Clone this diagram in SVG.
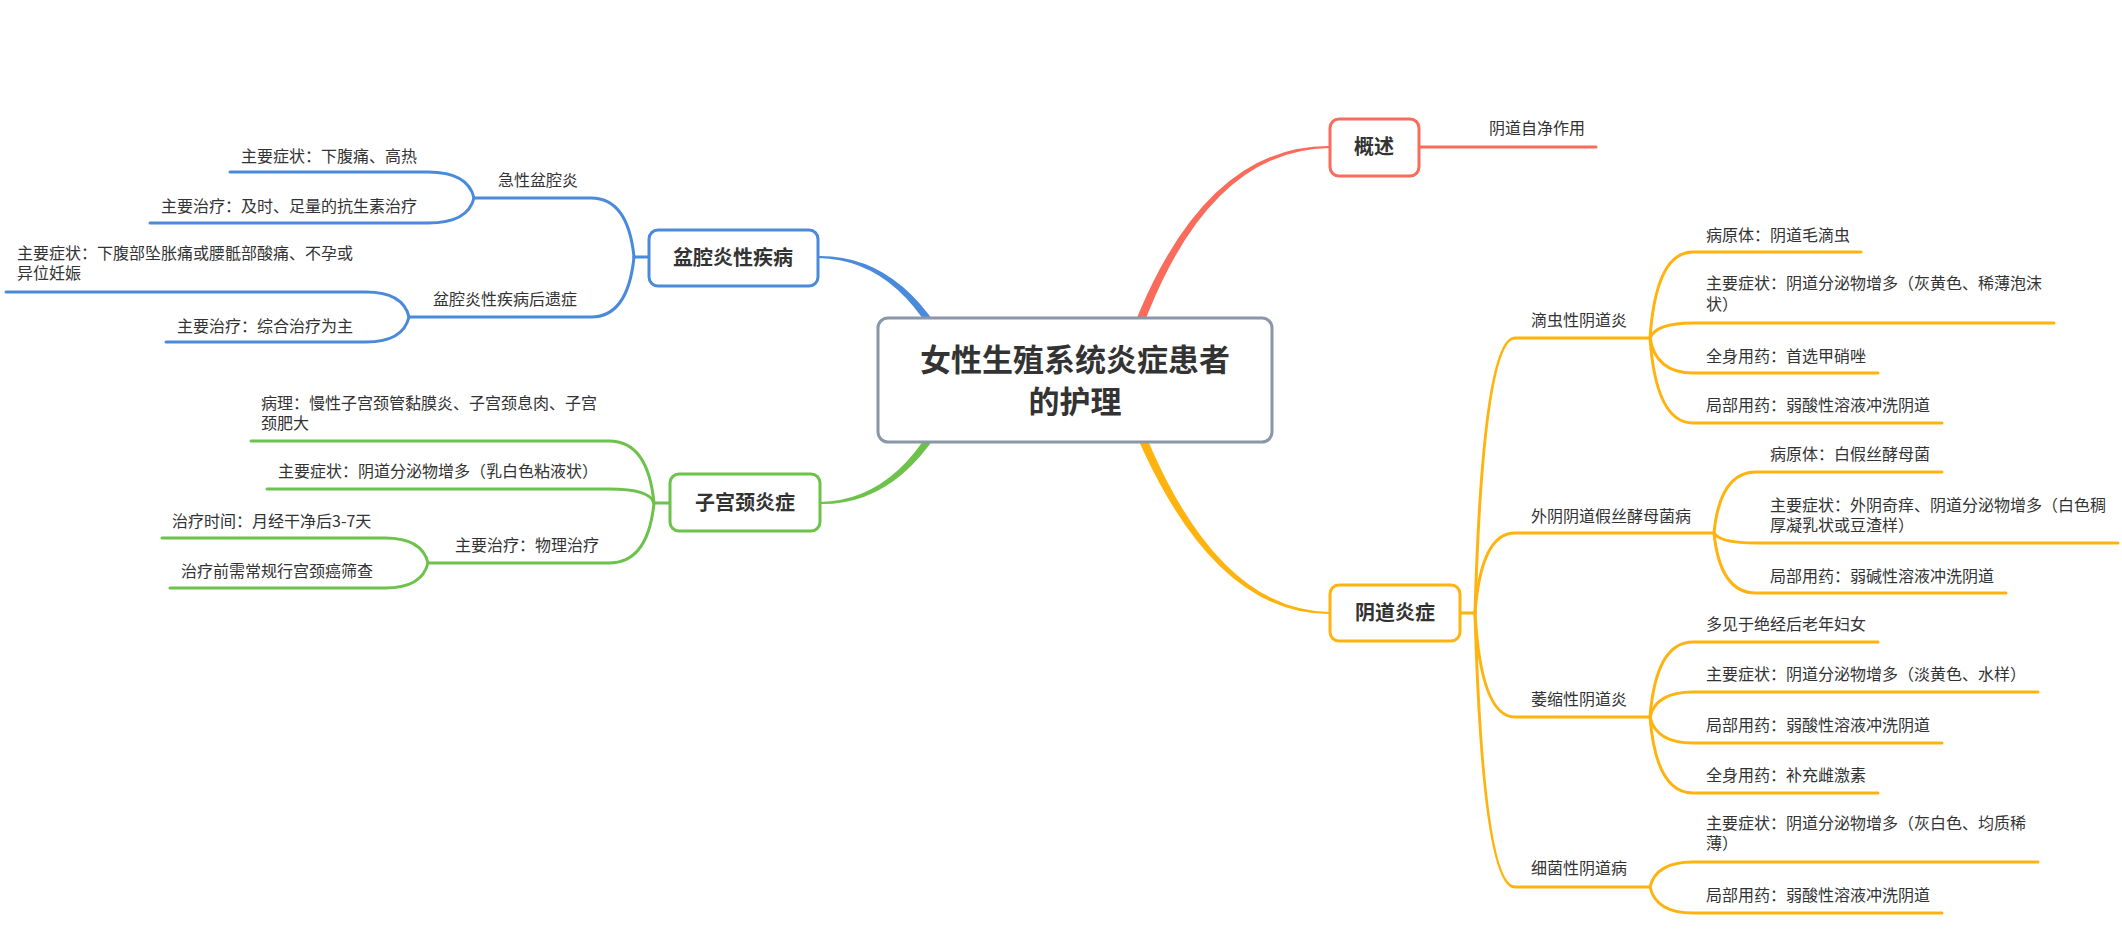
<svg xmlns="http://www.w3.org/2000/svg" width="2122" height="943" viewBox="0 0 2122 943">
<style>
text{font-family:"Noto Sans CJK SC","Noto Sans",sans-serif;fill:#333333}
.leaf{font-size:16px}
.main{font-size:20px;font-weight:bold;text-anchor:middle}
.root{font-size:31px;font-weight:bold;text-anchor:middle}
.ln{fill:none;stroke-width:3;stroke-linecap:round}
.r{stroke:#F96B5A}.b{stroke:#4A8ADB}.g{stroke:#6CC24A}.y{stroke:#FFB30F}
.box{fill:#ffffff;stroke-width:3}
</style>
<rect width="2122" height="943" fill="#ffffff"/>
<g id="connectors">
<path d="M 1124.79,381.44 Q 1191.79,149.41 1330,148 L 1330,146 Q 1188.21,144.59 1115.21,378.56 Z" fill="#F96B5A"/>
<path d="M 1115.27,381.62 Q 1198.26,615.44 1330,614 L 1330,612 Q 1201.74,610.56 1124.73,378.38 Z" fill="#FFB30F"/>
<path d="M 964.63,378.12 Q 911.67,254.51 818,256 L 818,258 Q 908.33,259.49 955.37,381.88 Z" fill="#4A8ADB"/>
<path d="M 955.37,378.12 Q 908.33,500.51 820,502 L 820,504 Q 911.67,505.49 964.63,381.88 Z" fill="#6CC24A"/>
<path class="ln r" d="M 1419 147 L 1596 147"/>
<path class="ln y" d="M 1460 613 L 1475 613"/>
<path class="ln y" d="M 1475 613 Q 1483 338 1515 338 L 1650 338"/>
<path class="ln y" d="M 1475 613 Q 1481 533 1515 533 L 1714 533"/>
<path class="ln y" d="M 1475 613 Q 1481 717 1515 717 L 1650 717"/>
<path class="ln y" d="M 1475 613 Q 1483 887 1515 887 L 1650 887"/>
<path class="ln y" d="M 1650 338 Q 1656 252 1693 252 L 1861 252"/>
<path class="ln y" d="M 1650 338 Q 1656 323 1693 323 L 2054 323"/>
<path class="ln y" d="M 1650 338 Q 1656 373 1693 373 L 1878 373"/>
<path class="ln y" d="M 1650 338 Q 1656 423 1693 423 L 1942 423"/>
<path class="ln y" d="M 1714 533 Q 1720 472 1756 472 L 1942 472"/>
<path class="ln y" d="M 1714 533 Q 1720 543 1756 543 L 2118 543"/>
<path class="ln y" d="M 1714 533 Q 1720 593 1756 593 L 2006 593"/>
<path class="ln y" d="M 1650 717 Q 1656 642 1693 642 L 1878 642"/>
<path class="ln y" d="M 1650 717 Q 1656 692 1693 692 L 2038 692"/>
<path class="ln y" d="M 1650 717 Q 1656 743 1693 743 L 1942 743"/>
<path class="ln y" d="M 1650 717 Q 1656 793 1693 793 L 1878 793"/>
<path class="ln y" d="M 1650 887 Q 1656 862 1693 862 L 2038 862"/>
<path class="ln y" d="M 1650 887 Q 1656 913 1693 913 L 1942 913"/>
<path class="ln b" d="M 649 257 L 634 257"/>
<path class="ln b" d="M 634 257 Q 628 198 591 198 L 474 198"/>
<path class="ln b" d="M 634 257 Q 628 317 591 317 L 409 317"/>
<path class="ln b" d="M 474 198 Q 468 172 428 172 L 230 172"/>
<path class="ln b" d="M 474 198 Q 468 223 428 223 L 150 223"/>
<path class="ln b" d="M 409 317 Q 403 292 366 292 L 6 292"/>
<path class="ln b" d="M 409 317 Q 403 342 366 342 L 166 342"/>
<path class="ln g" d="M 670 503 L 654 503"/>
<path class="ln g" d="M 654 503 Q 648 441 609 441 L 251 441"/>
<path class="ln g" d="M 654 503 Q 650 489 609 489 L 267 489"/>
<path class="ln g" d="M 654 503 Q 648 563 609 563 L 428 563"/>
<path class="ln g" d="M 428 563 Q 422 538 385 538 L 162 538"/>
<path class="ln g" d="M 428 563 Q 422 588 385 588 L 170 588"/>
</g>
<g id="root">
<rect class="box" x="878" y="318" width="394" height="124" rx="10" stroke="#8A97A8"/>
<text class="root" x="1075" y="371">女性生殖系统炎症患者<tspan x="1075" dy="42">的护理</tspan></text>
</g>
<g id="gaishu">
<rect class="box" x="1330" y="119" width="89" height="57" rx="9" stroke="#F96B5A"/>
<text class="main" x="1374" y="154">概述</text>
</g>
<g id="gaishu-1"><text class="leaf" x="1489" y="134">阴道自净作用</text></g>
<g id="yindao">
<rect class="box" x="1330" y="585" width="130" height="56" rx="9" stroke="#FFB30F"/>
<text class="main" x="1395" y="620">阴道炎症</text>
</g>
<g id="dichong"><text class="leaf" x="1531" y="326">滴虫性阴道炎</text></g>
<g id="dichong-1"><text class="leaf" x="1706" y="241">病原体：阴道毛滴虫</text></g>
<g id="dichong-2"><text class="leaf" x="1706" y="289">主要症状：阴道分泌物增多（灰黄色、稀薄泡沫<tspan x="1706" dy="21">状）</tspan></text></g>
<g id="dichong-3"><text class="leaf" x="1706" y="362">全身用药：首选甲硝唑</text></g>
<g id="dichong-4"><text class="leaf" x="1706" y="411">局部用药：弱酸性溶液冲洗阴道</text></g>
<g id="jiasi"><text class="leaf" x="1531" y="522">外阴阴道假丝酵母菌病</text></g>
<g id="jiasi-1"><text class="leaf" x="1770" y="460">病原体：白假丝酵母菌</text></g>
<g id="jiasi-2"><text class="leaf" x="1770" y="511">主要症状：外阴奇痒、阴道分泌物增多（白色稠<tspan x="1770" dy="20">厚凝乳状或豆渣样）</tspan></text></g>
<g id="jiasi-3"><text class="leaf" x="1770" y="582">局部用药：弱碱性溶液冲洗阴道</text></g>
<g id="weisuo"><text class="leaf" x="1531" y="705">萎缩性阴道炎</text></g>
<g id="weisuo-1"><text class="leaf" x="1706" y="630">多见于绝经后老年妇女</text></g>
<g id="weisuo-2"><text class="leaf" x="1706" y="680">主要症状：阴道分泌物增多（淡黄色、水样）</text></g>
<g id="weisuo-3"><text class="leaf" x="1706" y="731">局部用药：弱酸性溶液冲洗阴道</text></g>
<g id="weisuo-4"><text class="leaf" x="1706" y="781">全身用药：补充雌激素</text></g>
<g id="xijun"><text class="leaf" x="1531" y="874">细菌性阴道病</text></g>
<g id="xijun-1"><text class="leaf" x="1706" y="829">主要症状：阴道分泌物增多（灰白色、均质稀<tspan x="1706" dy="20">薄）</tspan></text></g>
<g id="xijun-2"><text class="leaf" x="1706" y="901">局部用药：弱酸性溶液冲洗阴道</text></g>
<g id="penqiang">
<rect class="box" x="649" y="230" width="169" height="56" rx="9" stroke="#4A8ADB"/>
<text class="main" x="733" y="265">盆腔炎性疾病</text>
</g>
<g id="jixing"><text class="leaf" x="498" y="186">急性盆腔炎</text></g>
<g id="jixing-1"><text class="leaf" x="241" y="162">主要症状：下腹痛、高热</text></g>
<g id="jixing-2"><text class="leaf" x="161" y="212">主要治疗：及时、足量的抗生素治疗</text></g>
<g id="houyi"><text class="leaf" x="433" y="305">盆腔炎性疾病后遗症</text></g>
<g id="houyi-1"><text class="leaf" x="17" y="259">主要症状：下腹部坠胀痛或腰骶部酸痛、不孕或<tspan x="17" dy="20">异位妊娠</tspan></text></g>
<g id="houyi-2"><text class="leaf" x="177" y="332">主要治疗：综合治疗为主</text></g>
<g id="gongjing">
<rect class="box" x="670" y="474" width="150" height="57" rx="9" stroke="#6CC24A"/>
<text class="main" x="745" y="510">子宫颈炎症</text>
</g>
<g id="gongjing-1"><text class="leaf" x="261" y="409">病理：慢性子宫颈管黏膜炎、子宫颈息肉、子宫<tspan x="261" dy="20">颈肥大</tspan></text></g>
<g id="gongjing-2"><text class="leaf" x="278" y="477">主要症状：阴道分泌物增多（乳白色粘液状）</text></g>
<g id="gongjing-3"><text class="leaf" x="455" y="551">主要治疗：物理治疗</text></g>
<g id="gongjing-3-1"><text class="leaf" x="172" y="527">治疗时间：月经干净后3-7天</text></g>
<g id="gongjing-3-2"><text class="leaf" x="181" y="577">治疗前需常规行宫颈癌筛查</text></g>
</svg>
